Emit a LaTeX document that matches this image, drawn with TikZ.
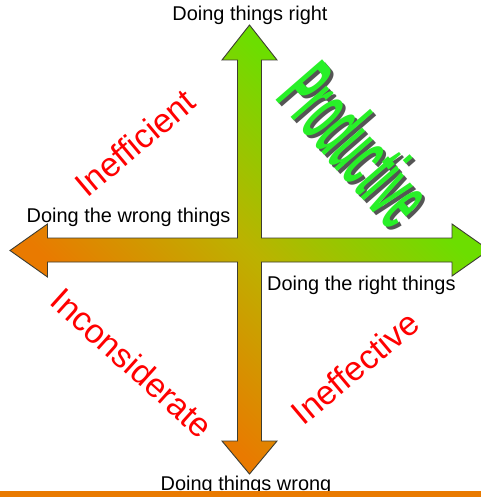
\documentclass[tikz,border=0pt]{standalone}
\usepackage{fontspec}
\setmainfont{Liberation Sans}
\definecolor{orangeC}{RGB}{233,122,0}
\definecolor{midC}{RGB}{188,178,0}
\definecolor{greenC}{RGB}{108,222,0}
\definecolor{prodG}{RGB}{40,240,40}
\definecolor{shadowG}{RGB}{85,85,85}
\definecolor{edgeC}{RGB}{60,60,50}
\pgfdeclarehorizontalshading{crossshade}{700bp}{color(0bp)=(orangeC); color(200bp)=(orangeC); color(350bp)=(midC); color(500bp)=(greenC); color(700bp)=(greenC)}
\newcommand\crosspath{(249.5,25) -- (277,60) -- (261.5,60) -- (261.5,238) -- (452,238) -- (452,224) -- (489,250) -- (452,276) -- (452,262) -- (261.5,262) -- (261.5,441) -- (277,441) -- (249.5,474) -- (222,441) -- (237.5,441) -- (237.5,262) -- (47.5,262) -- (47.5,277) -- (10,250.5) -- (47.5,224) -- (47.5,238) -- (237.5,238) -- (237.5,60) -- (222,60) -- cycle}
\begin{document}
\begin{tikzpicture}[x=1bp,y=-1bp,
  lbl/.style={font=\fontsize{20}{24}\selectfont, inner sep=0pt},
  redlbl/.style={font=\fontsize{34}{40}\selectfont, text=red, inner sep=0pt},
  prodlbl/.style={font=\fontsize{20}{24}\selectfont\bfseries, inner sep=0pt, rotate=-49, xscale=1.72, yscale=4.5}]
\useasboundingbox (0,0) rectangle (481,497);
\fill[white] (0,0) rectangle (481,497);
\begin{scope}
  \clip (0,0) rectangle (481,497);
  \begin{scope}
    \clip \crosspath;
    \node[rotate=45, inner sep=0pt] (shade) at (250,250) {\pgfuseshading{crossshade}};
  \end{scope}
  \draw[line width=0.9bp, draw=edgeC, line join=miter] \crosspath;
\end{scope}
\node[lbl, anchor=base] (tright) at (250,20.5) {Doing things right};
\node[lbl, anchor=base west] (twrongthings) at (26.5,222) {Doing the wrong things};
\node[lbl, anchor=base west] (trightthings) at (267,290) {Doing the right things};
\node[lbl, anchor=base] (twrong) at (246,490.5) {Doing things wrong};
\node[redlbl, rotate=40] (ineff) at (135,143) {Inefficient};
\node[redlbl, rotate=-42] (incons) at (132,363) {Inconsiderate};
\node[redlbl, rotate=40] (ineffect) at (355,368) {Ineffective};
\node[prodlbl, text=shadowG] (prodshadow) at (360,147) {Productive};
\node[prodlbl, text=prodG] (prod) at (357,144) {Productive};
\fill[orangeC] (0,491) rectangle (481,497);
\end{tikzpicture}
\end{document}
